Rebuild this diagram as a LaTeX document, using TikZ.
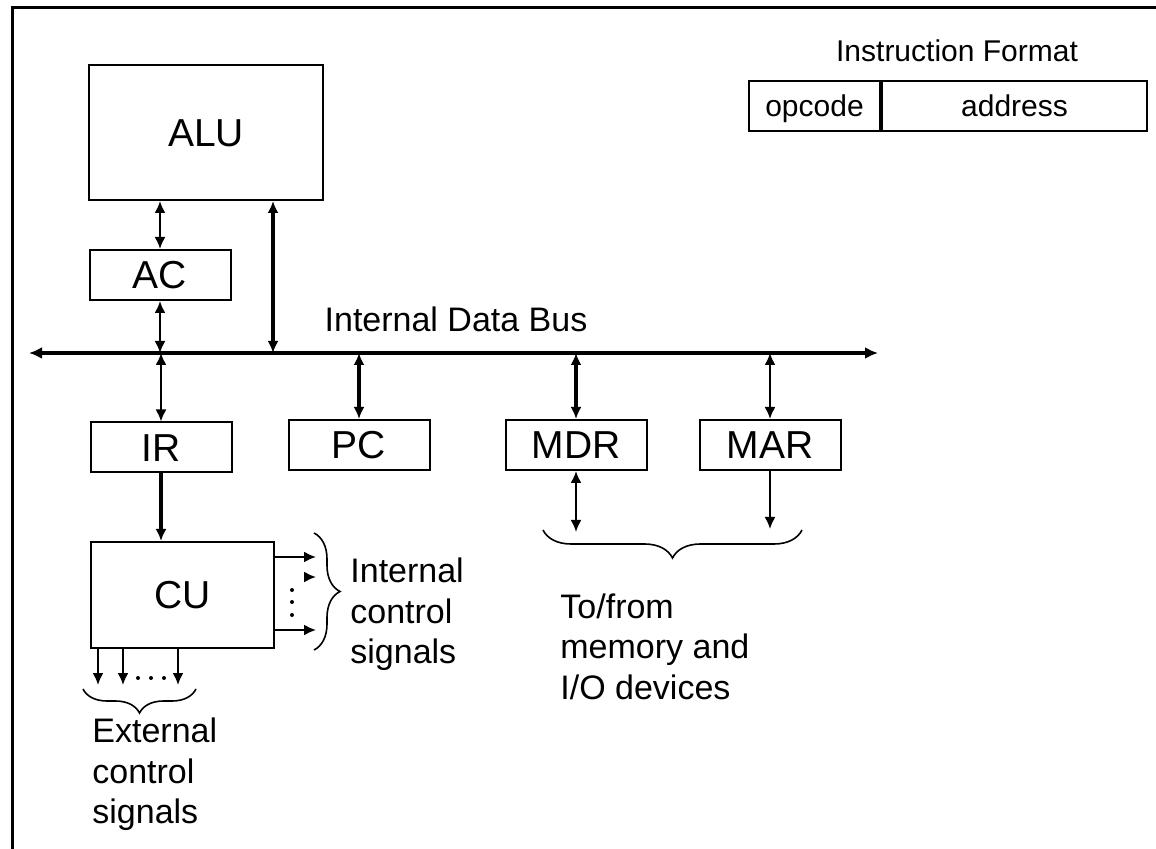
\documentclass[tikz,border=0pt]{standalone}
\usepackage{fontspec}
\setmainfont{Liberation Sans}
\usetikzlibrary{arrows.meta,decorations.pathreplacing}

\begin{document}
\begin{tikzpicture}[x=0.5pt, y=-0.5pt,
    every node/.style={inner sep=0pt},
    box/.style={draw, line width=1pt, text height=14pt, text depth=0pt, font=\fontsize{19.5}{23}\selectfont},
    reg/.style={box, minimum width=70.5pt, minimum height=25pt},
    field/.style={box, minimum height=25pt, text height=10.7pt, font=\fontsize{15}{18}\selectfont},
    link/.style={line width=1pt, {Latex[length=6pt,width=5.5pt]}-{Latex[length=6pt,width=5.5pt]}},
    thicklink/.style={link, line width=1.6pt},
    oneway/.style={line width=1pt, -{Latex[length=6pt,width=5.5pt]}},
    lbl/.style={font=\fontsize{17}{20.25}\selectfont, align=left, anchor=north west},
    brc/.style={decorate, decoration={brace, amplitude=#1}, line width=0.8pt}]

    \useasboundingbox (0,0) rectangle (1156,849);
    \draw[line width=1.5pt] (12,849) -- (12,8) -- (1156,8);

    % Boxes
    \node[box, minimum width=117pt, minimum height=67.5pt] (ALU) at (206,132.5) {ALU};
    \node[reg] (AC) at (160,275) {AC};
    \node[reg] (IR) at (161,447.5) {IR};
    \node[reg] (PC) at (359,445) {PC};
    \node[reg] (MDR) at (576,445) {MDR};
    \node[reg] (MAR) at (770,445) {MAR};
    \node[box, minimum width=91.5pt, minimum height=53pt] (CU) at (182.5,595) {CU};

    % Bus
    \coordinate (busL) at (29,353);
    \coordinate (busR) at (878,353);
    \draw[line width=2pt, {Latex[length=6.5pt,width=6pt]}-{Latex[length=6.5pt,width=6pt]}] (busL) -- (busR);
    \node[font=\fontsize{17}{20}\selectfont, anchor=base] (busname) at (456,332) {Internal Data Bus};

    % Bus connections
    \coordinate (alutap) at (273,353);
    \draw[thicklink] (alutap |- ALU.south) -- (alutap);
    \draw[link] (AC.north) -- (AC.north |- ALU.south);
    \draw[link] (AC.south) -- (AC.south |- busL);
    \draw[link] (IR.north) -- (IR.north |- busL);
    \draw[thicklink] (PC.north) -- (PC.north |- busL);
    \draw[thicklink] (MDR.north) -- (MDR.north |- busL);
    \draw[link] (MAR.north) -- (MAR.north |- busL);

    % IR to CU
    \draw[oneway, line width=1.6pt] (IR.south) -- (IR.south |- CU.north);

    % Internal control signals
    \coordinate (ics1) at (316,557);
    \coordinate (ics2) at (316,577);
    \coordinate (ics3) at (316,630);
    \draw[oneway] (ics1 -| CU.east) -- (ics1);
    \draw[oneway] ([xshift=-6pt]ics2) -- (ics2);
    \draw[oneway] (ics3 -| CU.east) -- (ics3);
    \foreach \y in {590,602,615}
        \fill (292,\y) circle (1pt);
    \draw[brc=13pt] (314,533) -- (314,650);
    \node[lbl] (icsname) at (350,557.5) {Internal\\control\\signals};

    % External control signals
    \foreach \x [count=\i] in {98,123,178} {
        \coordinate (ecs\i) at (\x,685);
        \draw[oneway] (ecs\i |- CU.south) -- (ecs\i);
    }
    \foreach \x in {138,151,164}
        \fill (\x,678) circle (1pt);
    \draw[brc=12pt] (196,689) -- (83,689);
    \node[lbl] (ecsname) at (92,717.5) {External\\control\\signals};

    % Memory and I/O
    \coordinate (mdrout) at (576,532);
    \coordinate (marout) at (770,529);
    \draw[link] (MDR.south) -- (mdrout);
    \draw[oneway] (MAR.south) -- (marout);
    \draw[brc=14pt] (802,530) -- (543,530);
    \node[lbl] (memname) at (560,593) {To/from\\memory and\\I/O devices};

    % Instruction format
    \node[font=\fontsize{15}{18}\selectfont, anchor=base] (fmtname) at (957,62) {Instruction Format};
    \node[field, minimum width=65.5pt] (opcode) at (814.5,106) {opcode};
    \node[field, minimum width=132.5pt, anchor=west] (address) at (opcode.east) {address};
\end{tikzpicture}
\end{document}
